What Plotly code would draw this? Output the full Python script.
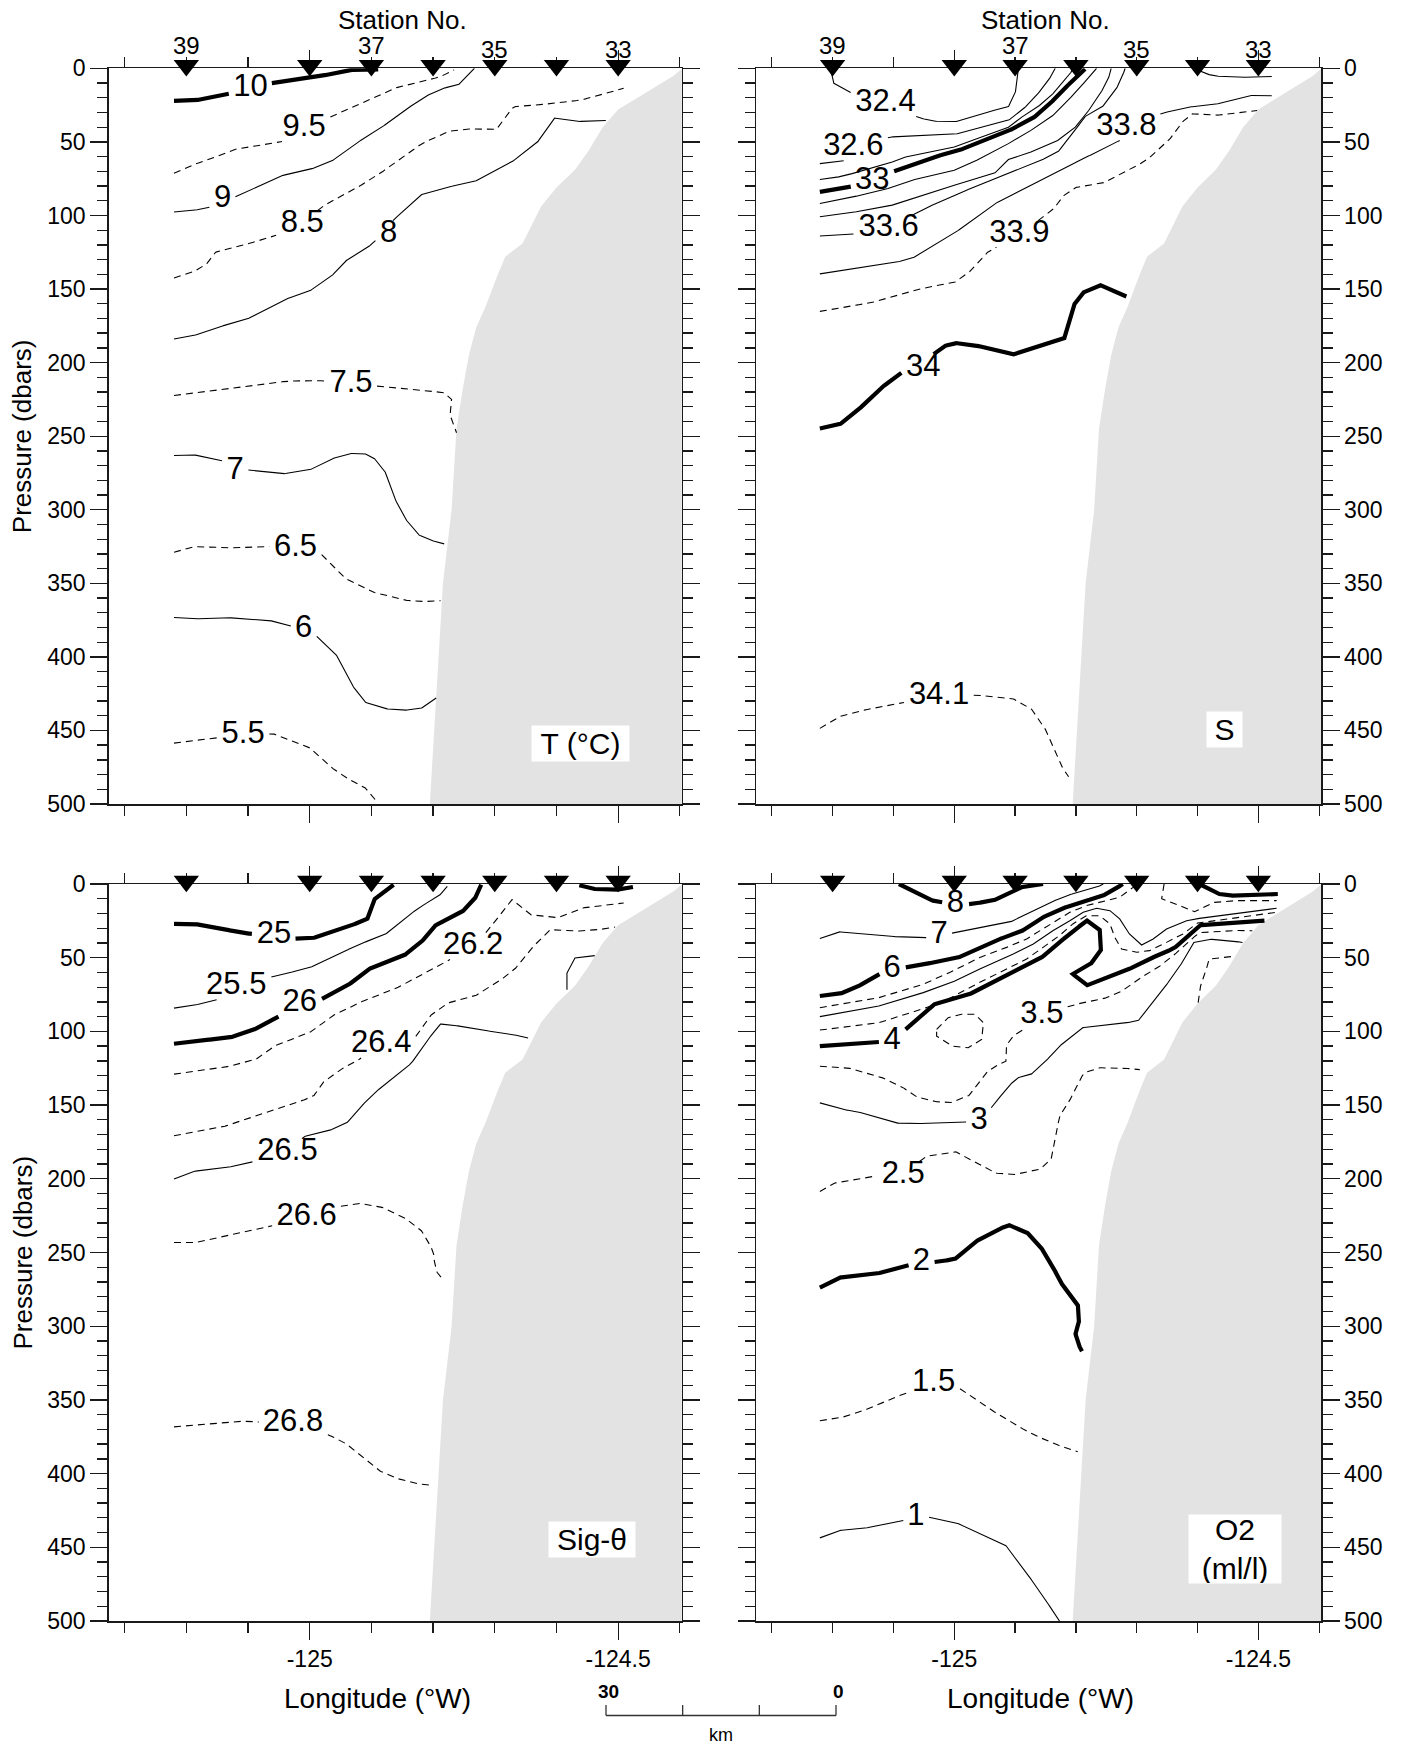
import math
import plotly.graph_objects as go

FONT = "Liberation Sans, Arial, Helvetica, sans-serif"
W, H = 1408, 1748

# ---------------- data ----------------
LON_RANGE = [-125.326, -124.397]
P_RANGE = [500, 0]

station_lon = [-125.2, -125.0, -124.9, -124.8, -124.7, -124.6, -124.5]
station_shown = ["39", "", "37", "", "35", "", "33"]

bathy_lon = [-124.396, -124.41, -124.434, -124.47, -124.50, -124.525, -124.548, -124.57, -124.60,
             -124.625, -124.642, -124.655, -124.683, -124.695, -124.715, -124.73, -124.742,
             -124.752, -124.762, -124.770, -124.784, -124.795, -124.806]
bathy_p = [0, 5, 11, 20.5, 28, 40, 56, 69, 81, 94, 108, 119, 128, 140, 162, 176, 195, 218, 245,
           300, 350, 425, 500]

# Temperature (deg C)
T_10 = [(-125.220, 22.2), (-125.190, 22.2), (-125.168, 20.4), (-125.128, 17.0), (-125.096, 13.6),
        (-125.063, 10.2), (-125.001, 6.8), (-124.965, 3.8), (-124.940, 1.1), (-124.889, 0.7)]
T_95 = [(-125.220, 71.3), (-125.190, 65.6), (-125.161, 61.8), (-125.125, 55.4), (-125.081, 52.0),
        (-125.045, 49.8), (-125.009, 41.0), (-124.965, 32.8), (-124.929, 26.0), (-124.886, 18.1),
        (-124.864, 13.6), (-124.828, 10.2), (-124.788, 5.7), (-124.766, 1.1)]
T_9 = [(-125.220, 97.7), (-125.190, 96.8), (-125.161, 94.3), (-125.141, 90.0), (-125.125, 88.2),
       (-125.096, 82.6), (-125.045, 72.9), (-125.001, 69.0), (-124.965, 63.3), (-124.929, 52.0),
       (-124.889, 41.9), (-124.849, 29.4), (-124.813, 19.2), (-124.784, 13.6), (-124.759, 11.3),
       (-124.733, 0.0)]
T_85 = [(-125.220, 142.5), (-125.190, 138.7), (-125.168, 133.5), (-125.154, 125.1), (-125.125, 122.2),
        (-125.096, 118.8), (-125.059, 114.3), (-125.012, 106.0), (-124.980, 93.9), (-124.929, 82.6),
        (-124.889, 72.4), (-124.849, 60.0), (-124.817, 50.9), (-124.777, 43.0), (-124.748, 41.2),
        (-124.697, 41.4), (-124.675, 28.3), (-124.668, 26.0), (-124.650, 25.6), (-124.603, 23.8),
        (-124.559, 21.5), (-124.491, 13.6)]
T_8 = [(-125.220, 184.0), (-125.190, 182.0), (-125.154, 176.5), (-125.103, 170.8), (-125.041, 157.2),
       (-125.001, 151.6), (-124.965, 141.4), (-124.943, 131.2), (-124.907, 122.2), (-124.880, 112.0),
       (-124.864, 103.0), (-124.820, 86.0), (-124.784, 81.4), (-124.733, 77.0), (-124.675, 64.5),
       (-124.632, 50.9), (-124.603, 33.9), (-124.567, 36.2), (-124.520, 35.5)]
T_75 = [(-125.220, 222.4), (-125.139, 218.3), (-125.038, 212.7), (-124.994, 212.0), (-124.933, 214.0),
        (-124.886, 216.2), (-124.806, 219.5), (-124.784, 220.0), (-124.770, 225.0), (-124.773, 235.0),
        (-124.762, 247.7)]
T_7 = [(-125.220, 263.2), (-125.190, 262.5), (-125.139, 267.0), (-125.121, 272.0), (-125.096, 273.2),
       (-125.041, 275.5), (-125.001, 273.2), (-124.965, 265.5), (-124.936, 261.8), (-124.911, 261.8),
       (-124.896, 264.8), (-124.878, 273.9), (-124.864, 290.9), (-124.846, 305.7), (-124.824, 317.0),
       (-124.806, 320.5), (-124.782, 323.2)]
T_65 = [(-125.220, 328.9), (-125.190, 325.0), (-125.139, 326.1), (-125.067, 325.0), (-125.023, 326.0),
        (-124.983, 329.5), (-124.943, 346.6), (-124.900, 355.7), (-124.849, 361.4), (-124.820, 362.5),
        (-124.788, 361.8)]
T_6 = [(-125.220, 373.2), (-125.190, 374.3), (-125.139, 373.2), (-125.067, 375.0), (-125.010, 381.4),
       (-124.991, 385.2), (-124.958, 397.7), (-124.933, 418.2), (-124.911, 430.7), (-124.878, 435.2),
       (-124.849, 436.4), (-124.820, 435.2), (-124.795, 428.0)]
T_55 = [(-125.220, 458.6), (-125.190, 456.8), (-125.139, 454.5), (-125.108, 453.4), (-125.059, 452.3),
        (-125.001, 461.4), (-124.969, 473.9), (-124.943, 481.8), (-124.911, 488.6), (-124.894, 496.6),
        (-124.891, 500.0)]
T_labels = {"10": (-125.096, 13.6), "9.5": (-125.009, 40.7), "9": (-125.141, 88.9),
            "8.5": (-125.012, 106.0), "8": (-124.872, 113.0), "7.5": (-124.933, 215.0),
            "7": (-125.121, 274.0), "6.5": (-125.023, 326.0), "6": (-125.010, 381.4),
            "5.5": (-125.108, 453.4)}

# Salinity
S_324 = [(-125.205, 0.0), (-125.202, 3.0), (-125.198, 10.2), (-125.172, 16.3), (-125.113, 23.7),
         (-125.058, 33.6), (-125.036, 35.9), (-125.000, 36.6), (-124.970, 32.7), (-124.941, 29.3),
         (-124.911, 26.0), (-124.900, 17.4), (-124.896, 7.2), (-124.895, 0.0)]
S_326 = [(-125.221, 64.8), (-125.183, 63.4), (-125.164, 55.0), (-125.106, 46.7), (-125.000, 45.0),
         (-124.963, 41.0), (-124.911, 35.4), (-124.889, 28.7), (-124.867, 19.6), (-124.845, 8.4),
         (-124.838, 2.7), (-124.834, 0.0)]
S_328 = [(-125.221, 75.6), (-125.190, 73.8), (-125.168, 71.6), (-125.102, 63.7), (-125.080, 60.3),
         (-125.000, 53.5), (-124.963, 47.9), (-124.911, 40.0), (-124.889, 33.2), (-124.860, 25.3),
         (-124.838, 17.4), (-124.819, 8.4), (-124.808, 2.7), (-124.805, 0.0)]
S_33 = [(-125.221, 84.0), (-125.175, 81.0), (-125.135, 76.0), (-125.102, 70.4), (-125.036, 60.3),
        (-125.000, 56.9), (-124.963, 51.2), (-124.911, 42.5), (-124.874, 35.0), (-124.845, 25.3),
        (-124.823, 15.1), (-124.801, 7.2), (-124.785, 0.5)]
S_332 = [(-125.221, 91.9), (-125.161, 86.9), (-125.109, 81.7), (-125.065, 75.6), (-125.000, 69.3),
         (-124.963, 62.5), (-124.911, 51.2), (-124.874, 42.2), (-124.838, 32.1), (-124.808, 19.6),
         (-124.786, 9.5), (-124.772, 2.7), (-124.766, 0.0)]
S_334 = [(-125.221, 100.9), (-125.161, 97.5), (-125.102, 93.0), (-125.051, 86.2), (-125.000, 79.5),
         (-124.933, 71.0), (-124.911, 62.0), (-124.874, 56.9), (-124.830, 49.0), (-124.801, 40.0),
         (-124.779, 28.7), (-124.757, 15.1), (-124.746, 6.1), (-124.742, 0.0)]
S_336 = [(-125.221, 114.0), (-125.164, 112.6), (-125.108, 108.8), (-125.054, 96.4), (-125.000, 86.2),
         (-124.933, 75.0), (-124.867, 64.5), (-124.830, 57.0), (-124.808, 46.0), (-124.786, 33.0),
         (-124.757, 26.4), (-124.735, 15.1), (-124.724, 6.1), (-124.719, 0.0)]
S_338 = [(-125.221, 139.7), (-125.161, 135.9), (-125.102, 132.5), (-125.069, 129.1), (-125.000, 112.2),
         (-124.933, 91.9), (-124.867, 78.3), (-124.823, 69.3), (-124.794, 62.5), (-124.757, 55.3),
         (-124.728, 49.0), (-124.717, 40.0), (-124.658, 30.5), (-124.617, 26.4), (-124.573, 24.8),
         (-124.515, 18.5), (-124.478, 18.7)]
S_338b = [(-124.600, 1.1), (-124.581, 4.3), (-124.566, 5.4), (-124.522, 6.1), (-124.478, 5.6)]
S_339 = [(-125.221, 165.2), (-125.183, 162.3), (-125.139, 159.6), (-125.065, 150.6), (-125.000, 145.6),
         (-124.977, 139.3), (-124.948, 125.7), (-124.893, 112.6), (-124.838, 96.4), (-124.823, 87.4),
         (-124.801, 81.0), (-124.757, 78.3), (-124.713, 69.3), (-124.684, 62.5), (-124.647, 49.0),
         (-124.628, 37.7), (-124.610, 30.9), (-124.573, 32.1), (-124.537, 30.5), (-124.502, 28.7)]
S_34 = [(-125.221, 244.8), (-125.190, 242.5), (-125.161, 233.5), (-125.124, 218.3), (-125.087, 207.0),
        (-125.051, 200.0), (-125.018, 189.0), (-125.000, 186.7), (-124.970, 187.8), (-124.904, 194.6),
        (-124.860, 189.0), (-124.819, 183.3), (-124.805, 161.9), (-124.790, 152.8), (-124.761, 147.2),
        (-124.717, 155.1)]
S_341 = [(-125.221, 448.6), (-125.190, 440.7), (-125.161, 437.3), (-125.109, 432.8), (-125.025, 427.0),
         (-124.963, 426.0), (-124.904, 428.3), (-124.874, 435.0), (-124.852, 447.5), (-124.838, 461.0),
         (-124.823, 474.7), (-124.812, 481.5)]
S_labels = {"32.4": (-125.113, 23.7), "32.6": (-125.166, 53.8), "33": (-125.135, 76.5),
            "33.6": (-125.108, 108.8), "33.8": (-124.717, 40.0), "33.9": (-124.893, 112.6),
            "34": (-125.051, 203.6), "34.1": (-125.025, 427.0)}

# Sigma-theta
G_25 = [(-125.220, 27.1), (-125.190, 26.9), (-125.154, 29.2), (-125.110, 33.3), (-125.058, 35.0),
        (-125.023, 37.1), (-124.998, 37.1), (-124.965, 32.8), (-124.907, 24.2), (-124.896, 10.6),
        (-124.882, 6.1), (-124.864, 0.5)]
G_25b = [(-124.563, 0.9), (-124.538, 3.4), (-124.501, 3.8), (-124.476, 2.0)]
G_255 = [(-125.220, 84.2), (-125.190, 82.6), (-125.146, 78.0), (-125.119, 69.5), (-125.059, 62.7),
         (-125.001, 57.0), (-124.965, 50.2), (-124.922, 41.2), (-124.878, 34.4), (-124.849, 24.2),
         (-124.820, 15.2), (-124.791, 8.4), (-124.777, 1.6)]
G_26 = [(-125.220, 108.4), (-125.190, 106.6), (-125.132, 104.5), (-125.096, 100.0), (-125.059, 92.1),
        (-125.016, 80.8), (-124.980, 78.0), (-124.940, 69.5), (-124.907, 58.1), (-124.849, 49.1),
        (-124.820, 40.0), (-124.799, 28.7), (-124.755, 19.7), (-124.733, 10.6), (-124.722, 0.5)]
G_262 = [(-125.220, 129.0), (-125.190, 127.1), (-125.132, 123.8), (-125.088, 119.2), (-125.059, 110.2),
         (-125.001, 101.1), (-124.965, 89.8), (-124.922, 80.8), (-124.864, 71.7), (-124.813, 60.4),
         (-124.735, 42.8), (-124.708, 29.9), (-124.672, 10.6), (-124.643, 20.8), (-124.599, 23.1),
         (-124.559, 16.3), (-124.491, 12.9)]
G_264 = [(-125.220, 170.8), (-125.190, 168.6), (-125.139, 164.5), (-125.088, 157.7), (-125.038, 150.9),
         (-124.994, 144.1), (-124.980, 135.1), (-124.951, 126.0), (-124.929, 121.5), (-124.884, 109.0),
         (-124.828, 103.4), (-124.806, 89.8), (-124.777, 80.8), (-124.733, 76.2), (-124.697, 67.2),
         (-124.668, 58.1), (-124.643, 44.6), (-124.610, 31.0), (-124.574, 32.1), (-124.538, 31.4),
         (-124.505, 29.2)]
G_265 = [(-125.220, 200.2), (-125.190, 195.0), (-125.139, 192.8), (-125.096, 188.9), (-125.036, 182.0),
         (-125.009, 171.3), (-124.972, 167.9), (-124.940, 162.2), (-124.922, 153.2), (-124.896, 141.9),
         (-124.857, 129.4), (-124.835, 121.5), (-124.813, 107.9), (-124.788, 95.0), (-124.770, 95.5),
         (-124.726, 98.9), (-124.675, 101.6), (-124.646, 104.5)]
G_265b = [(-124.583, 71.7), (-124.583, 60.4), (-124.570, 50.2), (-124.538, 48.6)]
G_266 = [(-125.220, 243.2), (-125.190, 243.7), (-125.139, 239.1), (-125.088, 234.6), (-125.005, 226.2),
         (-124.951, 218.8), (-124.922, 216.5), (-124.886, 218.8), (-124.849, 225.6), (-124.820, 234.6),
         (-124.806, 243.7), (-124.799, 250.5), (-124.799, 253.4), (-124.795, 262.4), (-124.788, 267.0),
         (-124.781, 268.0)]
G_268 = [(-125.220, 368.3), (-125.175, 366.5), (-125.117, 364.3), (-125.027, 366.0), (-124.969, 373.8),
         (-124.943, 379.0), (-124.907, 391.4), (-124.886, 398.2), (-124.864, 402.7), (-124.828, 406.8),
         (-124.802, 407.9)]
G_labels = {"25": (-125.058, 35.0), "25.5": (-125.119, 69.5), "26": (-125.016, 80.8),
            "26.2": (-124.735, 42.3), "26.4": (-124.884, 109.0), "26.5": (-125.036, 182.0),
            "26.6": (-125.005, 226.2), "26.8": (-125.027, 366.0)}

# Oxygen (ml/l)
O_8 = [(-125.091, 0.0), (-125.065, 5.7), (-125.043, 10.2), (-125.035, 11.3), (-124.998, 14.0),
       (-124.974, 13.6), (-124.936, 11.3), (-124.909, 5.7), (-124.892, 2.3), (-124.854, 0.0)]
O_8b = [(-124.597, 0.0), (-124.564, 6.8), (-124.542, 7.9), (-124.468, 6.8)]
O_75 = [(-124.655, 0.0), (-124.659, 10.0), (-124.630, 14.5), (-124.605, 18.8), (-124.573, 12.5),
        (-124.537, 11.3), (-124.470, 11.3)]
O_7 = [(-125.221, 37.0), (-125.190, 32.4), (-125.124, 35.1), (-125.051, 36.7), (-125.025, 35.0),
       (-125.002, 33.2), (-124.909, 26.0), (-124.887, 21.5), (-124.854, 14.7), (-124.816, 7.9),
       (-124.766, 2.3), (-124.755, 0.0)]
O_6 = [(-125.221, 76.0), (-125.190, 74.8), (-125.161, 70.3), (-125.131, 62.4), (-125.102, 57.8),
       (-125.078, 56.5), (-124.996, 50.4), (-124.958, 43.0), (-124.925, 37.3), (-124.892, 32.8),
       (-124.876, 28.3), (-124.854, 22.6), (-124.832, 18.1), (-124.794, 12.4), (-124.761, 9.0),
       (-124.739, 4.5), (-124.723, 0.0)]
O_55 = [(-125.221, 83.9), (-125.190, 81.6), (-125.124, 77.1), (-125.051, 68.0), (-125.005, 59.5),
        (-124.958, 49.8), (-124.914, 43.0), (-124.881, 37.3), (-124.854, 30.5), (-124.832, 24.9),
        (-124.810, 19.2), (-124.783, 14.7), (-124.750, 11.3), (-124.728, 9.0), (-124.706, 2.3),
        (-124.700, 0.0)]
O_5 = [(-125.221, 90.0), (-125.190, 87.8), (-125.124, 82.8), (-125.051, 73.7), (-125.000, 66.0),
       (-124.958, 57.6), (-124.903, 47.5), (-124.870, 40.7), (-124.838, 31.7), (-124.810, 24.9),
       (-124.788, 19.2), (-124.766, 16.5), (-124.744, 18.1), (-124.728, 23.7), (-124.712, 33.9),
       (-124.692, 41.4), (-124.673, 37.3), (-124.651, 30.5), (-124.618, 24.9), (-124.597, 23.3),
       (-124.470, 16.5)]
O_45 = [(-125.221, 99.1), (-125.175, 96.8), (-125.124, 94.1), (-125.080, 88.4), (-125.021, 80.5),
        (-124.958, 66.7), (-124.914, 57.6), (-124.881, 50.9), (-124.854, 43.0), (-124.827, 35.0),
        (-124.805, 27.1), (-124.783, 21.5), (-124.761, 21.5), (-124.744, 27.1), (-124.736, 36.2),
        (-124.725, 44.1), (-124.700, 46.3), (-124.679, 45.2), (-124.651, 39.6), (-124.624, 33.9),
        (-124.600, 26.5), (-124.470, 19.2)]
O_4 = [(-125.221, 110.0), (-125.161, 108.2), (-125.102, 106.6), (-125.080, 98.6), (-125.036, 82.0),
       (-124.980, 75.8), (-124.914, 62.2), (-124.881, 55.4), (-124.859, 50.9), (-124.832, 40.7),
       (-124.805, 32.8), (-124.783, 24.5), (-124.761, 30.5), (-124.758, 44.1), (-124.772, 53.1),
       (-124.805, 61.1), (-124.783, 68.9), (-124.739, 62.2), (-124.700, 55.4), (-124.662, 47.5),
       (-124.640, 44.1), (-124.608, 32.8), (-124.597, 28.0), (-124.531, 26.0), (-124.490, 24.9)]
O_35 = [(-125.221, 123.6), (-125.175, 124.7), (-125.124, 130.4), (-125.087, 137.2), (-125.065, 144.0),
        (-125.036, 147.4), (-125.007, 148.5), (-124.977, 144.0), (-124.963, 137.2), (-124.948, 128.1),
        (-124.933, 123.6), (-124.915, 120.2), (-124.915, 110.0), (-124.904, 103.2), (-124.889, 99.8),
        (-124.856, 89.1), (-124.801, 81.6), (-124.757, 78.2), (-124.728, 73.7), (-124.698, 64.6),
        (-124.669, 57.8), (-124.640, 48.8), (-124.617, 39.7), (-124.597, 33.0), (-124.550, 31.5),
        (-124.510, 31.7)]
O_35b = [(-125.029, 98.6), (-125.010, 90.7), (-124.988, 88.4), (-124.966, 88.4), (-124.952, 94.1),
         (-124.955, 105.4), (-124.977, 111.1), (-125.003, 110.0), (-125.029, 103.2), (-125.029, 98.6)]
O_3 = [(-125.221, 148.5), (-125.183, 153.1), (-125.161, 154.2), (-125.098, 162.1), (-125.073, 162.6),
       (-125.007, 162.1), (-124.959, 161.0), (-124.937, 150.8), (-124.911, 137.2), (-124.896, 131.5),
       (-124.874, 129.3), (-124.852, 121.3), (-124.830, 111.1), (-124.790, 97.5), (-124.735, 95.2),
       (-124.698, 93.0), (-124.669, 78.2), (-124.632, 57.8), (-124.606, 39.7), (-124.581, 37.4),
       (-124.544, 38.5), (-124.526, 39.7)]
O_3x = [(-124.599, 80.5), (-124.595, 69.2), (-124.584, 55.6), (-124.581, 51.0), (-124.544, 49.2)]
O_25 = [(-125.221, 208.6), (-125.198, 203.0), (-125.139, 198.4), (-125.084, 197.3), (-125.047, 184.8),
        (-124.999, 181.4), (-124.963, 189.3), (-124.933, 196.1), (-124.904, 197.3), (-124.860, 193.9),
        (-124.841, 187.1), (-124.834, 173.5), (-124.827, 157.6), (-124.812, 148.5), (-124.794, 132.7),
        (-124.786, 128.1), (-124.764, 124.7), (-124.728, 124.7), (-124.695, 125.9)]
O_2 = [(-125.221, 273.9), (-125.190, 267.0), (-125.131, 264.8), (-125.080, 259.1), (-125.054, 256.8),
       (-125.029, 256.4), (-124.999, 254.5), (-124.970, 243.8), (-124.941, 237.0), (-124.911, 231.3),
       (-124.882, 235.8), (-124.860, 244.9), (-124.838, 259.1), (-124.827, 269.3), (-124.812, 277.3),
       (-124.797, 285.2), (-124.794, 295.5), (-124.801, 304.5), (-124.797, 311.4), (-124.790, 317.0)]
O_15 = [(-125.221, 364.1), (-125.190, 362.5), (-125.153, 358.0), (-125.109, 350.0), (-125.034, 338.6),
        (-124.992, 342.0), (-124.948, 354.5), (-124.904, 365.9), (-124.874, 372.7), (-124.838, 379.5),
        (-124.797, 385.2)]
O_1 = [(-125.221, 443.6), (-125.190, 438.6), (-125.153, 437.5), (-125.095, 433.0), (-125.063, 429.5),
       (-125.043, 429.5), (-124.999, 433.0), (-124.955, 441.0), (-124.915, 448.9), (-124.896, 459.1),
       (-124.860, 479.5), (-124.827, 500.0)]
O_labels = {"8": (-124.998, 14.0), "7": (-125.025, 35.0), "6": (-125.102, 57.8), "4": (-125.102, 106.6),
            "3.5": (-124.856, 89.1), "3": (-124.959, 161.0), "2.5": (-125.084, 197.3),
            "2": (-125.054, 256.8), "1.5": (-125.034, 338.6), "1": (-125.063, 429.5)}

# ---------------- layout geometry (pixels) ----------------
COLS = [(108.6, 681.7), (756.0, 1321.0)]
ROWS = [(68.3, 804.0), (884.0, 1621.0)]

panels = [
    dict(ax="", col=0, row=0, box="T (°C)", boxc=(580, 743.5), boxwh=(97, 35), labels=T_labels,
         lines=[(T_10, "thick", "10"), (T_95, "dash", "9.5"), (T_9, "thin", "9"), (T_85, "dash", "8.5"),
                (T_8, "thin", "8"), (T_75, "dash", "7.5"), (T_7, "thin", "7"), (T_65, "dash", "6.5"),
                (T_6, "thin", "6"), (T_55, "dash", "5.5")]),
    dict(ax="2", col=1, row=0, box="S", boxc=(1224, 729.5), boxwh=(35, 35), labels=S_labels,
         lines=[(S_324, "thin", "32.4"), (S_326, "thin", "32.6"), (S_328, "thin", None),
                (S_33, "thick", "33"), (S_332, "thin", None), (S_334, "thin", None),
                (S_336, "thin", "33.6"), (S_338, "thin", "33.8"), (S_338b, "thin", None),
                (S_339, "dash", "33.9"), (S_34, "thick", "34"), (S_341, "dash", "34.1")]),
    dict(ax="3", col=0, row=1, box="Sig-θ", boxc=(592, 1539.5), boxwh=(86, 35), labels=G_labels,
         lines=[(G_25, "thick", "25"), (G_25b, "thick", None), (G_255, "thin", "25.5"),
                (G_26, "thick", "26"), (G_262, "dash", "26.2"), (G_264, "dash", "26.4"),
                (G_265, "thin", "26.5"), (G_265b, "thin", None), (G_266, "dash", "26.6"),
                (G_268, "dash", "26.8")]),
    dict(ax="4", col=1, row=1, box="O2<br>(ml/l)", boxc=(1235, 1549), boxwh=(92, 68), labels=O_labels,
         lines=[(O_8, "thick", "8"), (O_8b, "thick", None), (O_75, "dash", None), (O_7, "thin", "7"),
                (O_6, "thick", "6"), (O_55, "dash", None), (O_5, "thin", None), (O_45, "dash", None),
                (O_4, "thick", "4"), (O_35, "dash", "3.5"), (O_35b, "dash", None), (O_3, "thin", "3"),
                (O_3x, "dash", None), (O_25, "dash", "2.5"), (O_2, "thick", "2"), (O_15, "dash", "1.5"),
                (O_1, "thin", "1")]),
]

LABEL_FS = 31
STYLES = {"thick": dict(width=4.2, dash="solid"), "thin": dict(width=1.1, dash="solid"),
          "dash": dict(width=1.1, dash="7px,5px")}


def text_width(s, fs):
    return sum(0.556 if c.isdigit() else 0.278 for c in s) * fs


def split_line(pts, lab, text, sx, sy):
    if lab is None:
        return [p[0] for p in pts], [p[1] for p in pts]
    hw = text_width(text, LABEL_FS) / 2 + 4
    hh = 0.36 * LABEL_FS + 2
    xs, ys = [], []
    last = len(pts) - 2
    for i in range(len(pts) - 1):
        (x0, y0), (x1, y1) = pts[i], pts[i + 1]
        L = math.hypot((x1 - x0) * sx, (y1 - y0) * sy)
        n = max(1, int(L))
        for k in range(n + (1 if i == last else 0)):
            t = k / n
            x = x0 + (x1 - x0) * t
            y = y0 + (y1 - y0) * t
            if abs((x - lab[0]) * sx) < hw and abs((y - lab[1]) * sy) < hh:
                if xs and xs[-1] is not None:
                    xs.append(None)
                    ys.append(None)
            else:
                xs.append(x)
                ys.append(y)
    return xs, ys


fig = go.Figure()
layout = dict(width=W, height=H, margin=dict(l=0, r=0, t=0, b=0, autoexpand=False),
              paper_bgcolor="white", plot_bgcolor="rgba(0,0,0,0)", showlegend=False, autosize=False)
annotations = []
shapes = []
AXC = "#1a1a1a"
MARK_PAD = 18  # px of room above each panel for the station markers

for idx, pnl in enumerate(panels):
    a = pnl["ax"]
    xr, yr = "x" + a, "y" + a
    yk = str(5 + idx)  # helper axis for station markers
    c0, c1 = COLS[pnl["col"]]
    r0, r1 = ROWS[pnl["row"]]
    sx = (c1 - c0) / (LON_RANGE[1] - LON_RANGE[0])
    sy = (r1 - r0) / 500.0
    bottom = pnl["row"] == 1
    right = pnl["col"] == 1

    layout["xaxis" + a] = dict(
        domain=[c0 / W, c1 / W], anchor=yr, range=LON_RANGE, tickmode="array",
        tickvals=[-125.0, -124.5], ticktext=["-125", "-124.5"], showticklabels=bottom,
        ticks="outside", ticklen=17, tickwidth=1.3, tickcolor=AXC,
        minor=dict(tick0=-125.0, dtick=0.1, ticks="outside", ticklen=10, tickwidth=1.3, tickcolor=AXC),
        showline=True, linecolor=AXC, linewidth=1.5, mirror="ticks", showgrid=False, zeroline=False,
        tickfont=dict(family=FONT, size=23, color="black"), fixedrange=True)
    layout["yaxis" + a] = dict(
        domain=[1 - r1 / H, 1 - r0 / H], anchor=xr, range=P_RANGE, tickmode="array",
        tickvals=list(range(0, 501, 50)), side="right" if right else "left",
        ticks="outside", ticklen=17, tickwidth=1.3, tickcolor=AXC,
        minor=dict(tick0=0, dtick=10, ticks="outside", ticklen=10, tickwidth=1.3, tickcolor=AXC),
        showline=True, linecolor=AXC, linewidth=1.5, mirror="ticks", showgrid=False, zeroline=False,
        tickfont=dict(family=FONT, size=23, color="black"), fixedrange=True)
    # invisible helper axis: same pressure scale, domain extended upwards
    layout["yaxis" + yk] = dict(
        domain=[1 - r1 / H, 1 - (r0 - MARK_PAD) / H], anchor=xr, range=[500, -MARK_PAD / sy],
        visible=False, fixedrange=True)

    # bathymetry
    bx = [bathy_lon[0]] + bathy_lon + [bathy_lon[-1], -124.30, -124.30]
    by = [-5] + bathy_p + [505, 505, -5]
    fig.add_trace(go.Scatter(x=bx, y=by, xaxis=xr, yaxis=yr, mode="lines", fill="toself",
                             fillcolor="#e3e3e3", line=dict(width=0, color="#e3e3e3"), hoverinfo="skip"))

    # contour lines
    lab_x, lab_y, lab_t = [], [], []
    for pts, style, lab in pnl["lines"]:
        pos = pnl["labels"].get(lab) if lab else None
        xs, ys = split_line(pts, pos, lab, sx, sy)
        fig.add_trace(go.Scatter(x=xs, y=ys, xaxis=xr, yaxis=yr, mode="lines",
                                 line=dict(color="black", **STYLES[style]), connectgaps=False,
                                 hoverinfo="skip"))
        if pos is not None:
            lab_x.append(pos[0])
            lab_y.append(pos[1])
            lab_t.append(lab)
    fig.add_trace(go.Scatter(x=lab_x, y=lab_y, text=lab_t, xaxis=xr, yaxis=yr, mode="text",
                             textposition="middle center",
                             textfont=dict(family=FONT, size=LABEL_FS, color="black"), hoverinfo="skip"))

    # station markers
    fig.add_trace(go.Scatter(x=station_lon, y=[-1.9] * len(station_lon), xaxis=xr, yaxis="y" + yk,
                             mode="markers", cliponaxis=False,
                             marker=dict(symbol="triangle-down", size=22, color="black", line=dict(width=0)),
                             hoverinfo="skip"))

    # panel label box
    bcx, bcy = pnl["boxc"]
    bw, bh = pnl["boxwh"]
    annotations.append(dict(xref="paper", yref="paper", x=bcx / W, y=1 - bcy / H, xanchor="center",
                            yanchor="middle", text=pnl["box"], showarrow=False, bgcolor="white",
                            width=bw, height=bh, borderpad=0,
                            font=dict(family=FONT, size=30, color="black")))

    if not bottom:
        annotations.append(dict(xref="paper", yref="paper", x=((c0 + c1) / 2 + 7) / W, y=1 - 20 / H,
                                text="Station No.", showarrow=False, xanchor="center", yanchor="middle",
                                font=dict(family=FONT, size=26, color="black")))
        for lon, s in zip(station_lon, station_shown):
            if s:
                yy = 46.0 if lon < -124.8 else 50.0
                annotations.append(dict(xref=xr, yref="paper", x=lon, y=1 - yy / H, text=s,
                                        showarrow=False, xanchor="center", yanchor="middle",
                                        font=dict(family=FONT, size=24, color="black")))
    else:
        tx = 377 if not right else 1040
        annotations.append(dict(xref="paper", yref="paper", x=tx / W, y=1 - 1698 / H,
                                text="Longitude (°W)", showarrow=False, xanchor="center", yanchor="middle",
                                font=dict(family=FONT, size=28, color="black")))
    if not right:
        annotations.append(dict(xref="paper", yref="paper", x=22 / W, y=1 - ((r0 + r1) / 2) / H,
                                text="Pressure (dbars)", textangle=-90, showarrow=False,
                                xanchor="center", yanchor="middle",
                                font=dict(family=FONT, size=26, color="black")))

# distance scale bar (km)
scale_km = [30, 20, 10, 0]
sb_x0, sb_x1, sb_y = 606.0, 836.0, 1715.5
for i, km in enumerate(scale_km):
    xx = sb_x0 + (sb_x1 - sb_x0) * i / (len(scale_km) - 1)
    shapes.append(dict(type="line", xref="paper", yref="paper", x0=xx / W, x1=xx / W,
                       y0=1 - sb_y / H, y1=1 - (sb_y - 10.5) / H, line=dict(color="#333", width=1.3)))
    if km in (30, 0):
        annotations.append(dict(xref="paper", yref="paper", x=(xx + 2) / W, y=1 - 1691 / H, text=f"<b>{km}</b>",
                                showarrow=False, xanchor="center", yanchor="middle",
                                font=dict(family=FONT, size=19, color="black")))
shapes.append(dict(type="line", xref="paper", yref="paper", x0=sb_x0 / W, x1=sb_x1 / W,
                   y0=1 - sb_y / H, y1=1 - sb_y / H, line=dict(color="#333", width=1.3)))
annotations.append(dict(xref="paper", yref="paper", x=721 / W, y=1 - 1735 / H, text="km", showarrow=False,
                        xanchor="center", yanchor="middle", font=dict(family=FONT, size=18, color="black")))

layout["annotations"] = annotations
layout["shapes"] = shapes
fig.update_layout(**layout)

fig.write_html("out.html", config={"displayModeBar": False, "staticPlot": True},
               post_script="document.body.style.margin='0';document.body.style.overflow='hidden';")
